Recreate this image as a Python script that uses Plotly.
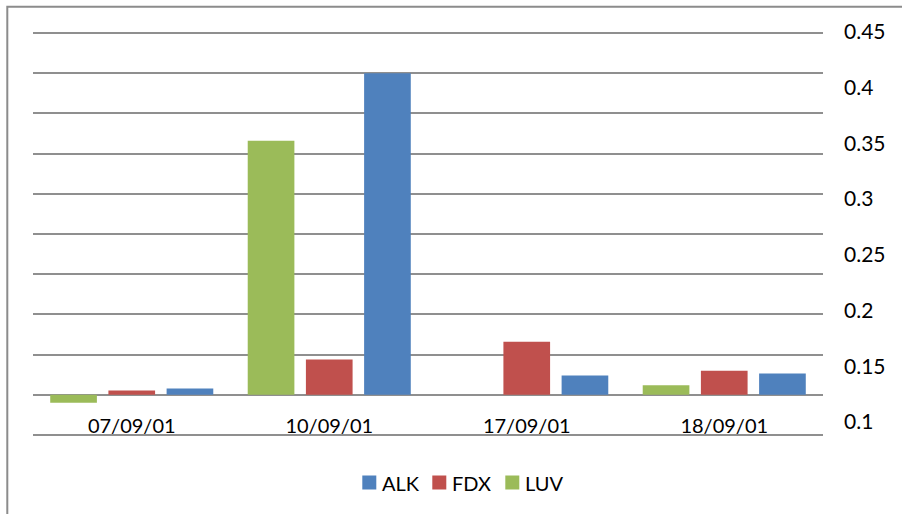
import plotly.graph_objects as go

# Trading dates and the daily value for each ticker
dates = ["07/09/01", "10/09/01", "17/09/01", "18/09/01"]
luv = [-0.010, 0.316, 0.0, 0.012]
fdx = [0.0053, 0.044, 0.066, 0.030]
alk = [0.0078, 0.400, 0.024, 0.0265]

# Labels shown down the right-hand scale
right_ticks = [0.1, 0.15, 0.2, 0.25, 0.3, 0.35, 0.4, 0.45]
right_labels = ["0.1", "0.15", "0.2", "0.25", "0.3", "0.35", "0.4", "0.45"]

# Series styling (bars drawn left to right in this order)
series = [
    ("LUV", luv, "#9BBB59"),
    ("FDX", fdx, "#C0504D"),
    ("ALK", alk, "#4F81BD"),
]

W, H = 902, 514
PAD = 2  # keep the outer gridlines just inside the plot edges
L, R, T, B = 33, 79, 33 - PAD, 79 - PAD
plot_w = W - L - R
plot_h = H - T - B

FONT = "Lato"
GRID = "#8f8f8f"


def px_to_paper_x(px):
    return (px - L) / plot_w


def px_to_paper_y(py):
    return (H - B - py) / plot_h


fig = go.Figure()
for name, vals, color in series:
    fig.add_trace(go.Bar(name=name, x=dates, y=vals,
                         marker=dict(color=color, line_width=0), showlegend=False))
# empty trace so the right-hand scale is rendered
fig.add_trace(go.Scatter(x=[], y=[], yaxis="y2", showlegend=False, hoverinfo="skip"))

# outer chart frame (left and top edges visible)
fig.add_shape(type="rect", xref="paper", yref="paper",
              x0=px_to_paper_x(7.3), x1=px_to_paper_x(920),
              y0=px_to_paper_y(530), y1=px_to_paper_y(6.7),
              line=dict(color="#8c8c8c", width=2), fillcolor="rgba(0,0,0,0)", layer="below")

# key below the chart: ALK, FDX, LUV
key_left = [362.3, 432.3, 505.3]
key_y = 482.5
for (name, _, color), kx in zip(reversed(series), key_left):
    fig.add_shape(type="rect", xref="paper", yref="paper",
                  x0=px_to_paper_x(kx), x1=px_to_paper_x(kx + 14),
                  y0=px_to_paper_y(key_y + 7), y1=px_to_paper_y(key_y - 7),
                  line_width=0, fillcolor=color)
    fig.add_annotation(text=name, xref="paper", yref="paper",
                       x=px_to_paper_x(kx + 18), y=px_to_paper_y(key_y),
                       xanchor="left", yanchor="middle", showarrow=False,
                       font=dict(size=20, family=FONT, color="#000000"))

# main value scale: gridline every 0.05 from -0.05 to 0.45
upp = 0.5 / 402.0
y_range = [-0.05 - PAD * upp, 0.45 + PAD * upp]

# right-hand scale pixel mapping: 0.45 near y=31.7, 0.1 near y=422.1
ppu = (422.1 - 31.7) / (0.45 - 0.1)
y2_top = 0.45 + (31.7 - T) / ppu
y2_bot = 0.1 - ((H - B) - 422.1) / ppu

fig.update_layout(
    width=W, height=H,
    margin=dict(l=L, r=R, t=T, b=B, autoexpand=False),
    paper_bgcolor="white", plot_bgcolor="white",
    barmode="group", bargap=0.116, bargroupgap=0.198,
    font=dict(family=FONT, size=20, color="#000000"),
    xaxis=dict(type="category", showgrid=False, showline=False, zeroline=False,
               ticks="", anchor="free", position=px_to_paper_y(412),
               tickfont=dict(size=20)),
    yaxis=dict(range=y_range, dtick=0.05, tick0=0, showgrid=True,
               gridcolor=GRID, gridwidth=1.5, zeroline=False, showticklabels=False,
               showline=False, ticks=""),
    yaxis2=dict(overlaying="y", side="right", range=[y2_bot, y2_top], autorange=False,
                tickvals=right_ticks, ticktext=right_labels, showgrid=False,
                zeroline=False, showline=False, ticks="", ticklabelstandoff=20,
                tickfont=dict(size=21)),
    showlegend=False,
)

fig.write_html("out.html")
